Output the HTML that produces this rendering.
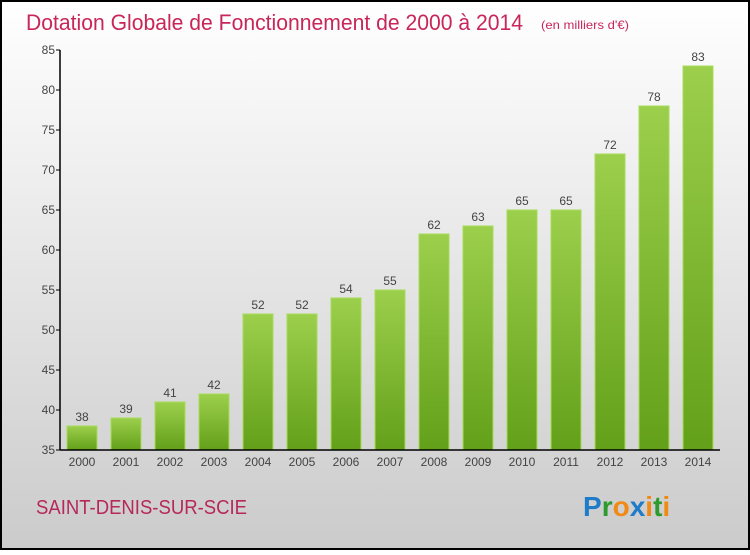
<!DOCTYPE html>
<html><head><meta charset="utf-8"><style>
html,body{margin:0;padding:0}
body{width:750px;height:550px;overflow:hidden;font-family:"Liberation Sans",sans-serif}
</style></head><body>
<svg width="750" height="550" xmlns="http://www.w3.org/2000/svg">
<defs>
<linearGradient id="bg" x1="0" y1="0" x2="0" y2="1"><stop offset="0" stop-color="#ffffff"/><stop offset="1" stop-color="#cbcbcb"/></linearGradient>
<linearGradient id="bar" x1="0" y1="0" x2="0" y2="1"><stop offset="0" stop-color="#9ccf4c"/><stop offset="1" stop-color="#63a01a"/></linearGradient>
</defs>
<rect x="1" y="1" width="748" height="548" fill="url(#bg)" stroke="#000" stroke-width="2"/>
<text x="26" y="30" font-size="22" fill="#c8265a" textLength="497" lengthAdjust="spacingAndGlyphs">Dotation Globale de Fonctionnement de 2000 à 2014</text>
<text x="541" y="29" font-size="12" fill="#c8265a" textLength="88" lengthAdjust="spacingAndGlyphs">(en milliers d'€)</text>
<g id="plot"></g>
<text x="36" y="514" font-size="20" fill="#b7285a" textLength="211" lengthAdjust="spacingAndGlyphs">SAINT-DENIS-SUR-SCIE</text>
<text x="583" y="516" font-size="28" font-weight="bold"><tspan fill="#1e7cc8">P</tspan><tspan fill="#2d9b2d">r</tspan><tspan fill="#f08a14">o</tspan><tspan fill="#1e7cc8">x</tspan><tspan fill="#f08a14">i</tspan><tspan fill="#2d9b2d">t</tspan><tspan fill="#f08a14">i</tspan></text>
</svg>
<script>
const categories=["2000","2001","2002","2003","2004","2005","2006","2007","2008","2009","2010","2011","2012","2013","2014"];
const values=[38,39,41,42,52,52,54,55,62,63,65,65,72,78,83];
const yTicks=[35,40,45,50,55,60,65,70,75,80,85];
const NS="http://www.w3.org/2000/svg";
const g=document.getElementById('plot');
const x0=60,x1=720,yTop=50,yBot=450,yMin=35,yMax=85;
const band=(x1-x0)/categories.length;
const y=v=>yBot-(v-yMin)/(yMax-yMin)*(yBot-yTop);
const xc=i=>x0+band*(i+0.5);
function mk(t,a){const e=document.createElementNS(NS,t);for(const k in a)e.setAttribute(k,a[k]);g.appendChild(e);return e;}
values.forEach((v,i)=>{
 const r=mk('rect',{x:xc(i)-15,y:y(v),width:30,height:yBot-y(v),fill:'url(#bar)',stroke:'#a6dc5a','stroke-width':1});
 
 
 const t=mk('text',{x:xc(i),y:y(v)-5,'text-anchor':'middle','font-size':12,fill:'#444'});
 t.textContent=v;
 
 
 const c=mk('text',{x:xc(i),y:466,'text-anchor':'middle','font-size':12,fill:'#444'});
 c.textContent=categories[i];
 
 
});
yTicks.forEach(v=>{
 const l=mk('line',{x1:x0-4,x2:x0,y1:y(v),y2:y(v),stroke:'#000','stroke-width':1});
 
 
 const t=mk('text',{x:x0-5,y:y(v)+4,'text-anchor':'end','font-size':12,fill:'#444'});
 t.textContent=v;
 
 
});
const ya=mk('line',{x1:x0,x2:x0,y1:yTop,y2:yBot,stroke:'#000','stroke-width':1.5});


const xa=mk('line',{x1:x0,x2:x1,y1:yBot,y2:yBot,stroke:'#000','stroke-width':1.5});


</script>
</body></html>
